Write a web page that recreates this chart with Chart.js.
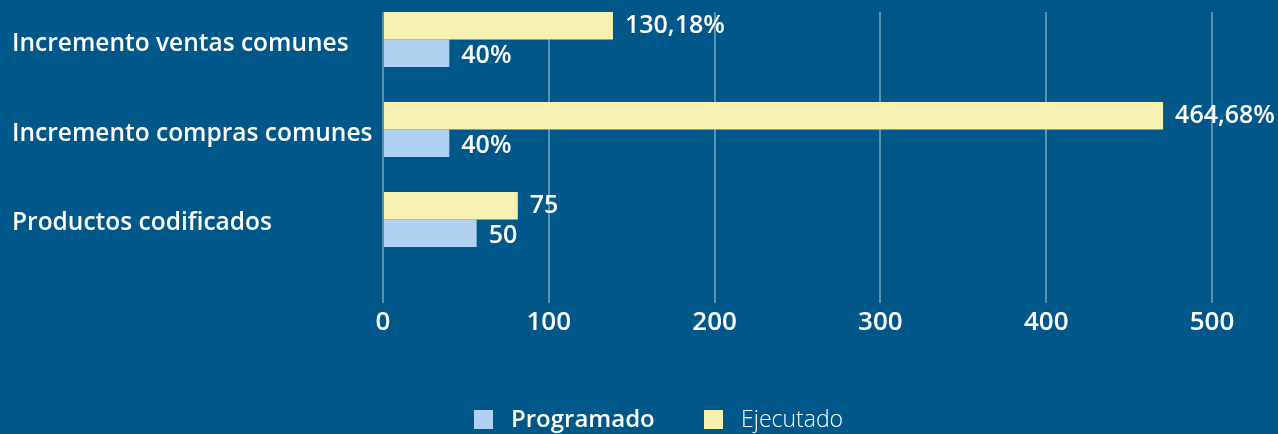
<!DOCTYPE html>
<html>
<head>
<meta charset="utf-8">
<script src="https://cdn.jsdelivr.net/npm/chart.js@4.4.1/dist/chart.umd.min.js"></script>
<style>
  html, body { margin: 0; padding: 0; background: #00578a; }
  #wrap { width: 1278px; height: 434px; position: relative; }
</style>
</head>
<body>
<div id="wrap"><canvas id="c" width="1278" height="434"></canvas></div>
<script>
const categories = ['Incremento ventas comunes', 'Incremento compras comunes', 'Productos codificados'];
const seriesNames = ['Programado', 'Ejecutado'];
const programado = [40, 40, 56.5];
const ejecutado = [138.7, 470.5, 81.3];
const programadoLabels = ['40%', '40%', '50'];
const ejecutadoLabels = ['130,18%', '464,68%', '75'];
const xTicks = [0, 100, 200, 300, 400, 500];

const FONT = "'Open Sans', 'DejaVu Sans', sans-serif";
const YELLOW = '#f6f1b0';
const BLUE = '#b0d1ef';

const valueLabels = {
  id: 'valueLabels',
  afterDatasetsDraw(chart) {
    const ctx = chart.ctx;
    const texts = [ejecutadoLabels, programadoLabels];
    ctx.save();
    ctx.fillStyle = '#ffffff';
    ctx.font = `600 25px ${FONT}`;
    ctx.textAlign = 'left';
    ctx.textBaseline = 'middle';
    chart.data.datasets.forEach((ds, di) => {
      const meta = chart.getDatasetMeta(di);
      meta.data.forEach((bar, i) => {
        ctx.fillText(texts[di][i], bar.x + 12, bar.y + (di === 1 ? 3 : 0));
      });
    });
    ctx.restore();
  }
};

const customLegend = {
  id: 'customLegend',
  afterDraw(chart) {
    const ctx = chart.ctx;
    const items = [
      { text: seriesNames[0], color: BLUE, weight: 600, size: 24, x: 474 },
      { text: seriesNames[1], color: YELLOW, weight: 300, size: 23, x: 704 }
    ];
    ctx.save();
    ctx.textBaseline = 'middle';
    ctx.textAlign = 'left';
    items.forEach(it => {
      ctx.fillStyle = it.color;
      ctx.fillRect(it.x, 410, 19, 19);
      ctx.fillStyle = '#ffffff';
      ctx.font = `${it.weight} ${it.size}px ${FONT}`;
      ctx.fillText(it.text, it.x + 37, 420);
    });
    ctx.restore();
  }
};

new Chart(document.getElementById('c'), {
  type: 'bar',
  data: {
    labels: categories,
    datasets: [
      { label: seriesNames[1], data: ejecutado.map((v, i) => ({ x: v, y: i })), backgroundColor: YELLOW },
      { label: seriesNames[0], data: programado.map((v, i) => ({ x: v, y: i })), backgroundColor: BLUE }
    ]
  },
  options: {
    indexAxis: 'y',
    responsive: false,
    animation: false,
    maintainAspectRatio: false,
    categoryPercentage: 0.61,
    barPercentage: 1,
    layout: { padding: { top: 12, right: 66, left: 12, bottom: 0 } },
    plugins: { legend: { display: false }, tooltip: { enabled: false } },
    scales: {
      x: {
        type: 'linear',
        min: 0, max: 500,
        afterBuildTicks(scale) { scale.ticks = xTicks.map(v => ({ value: v })); },
        afterFit(scale) { scale.height = 434 - 303; scale.paddingLeft = 0; scale.paddingRight = 0; },
        grid: { color: 'rgba(255,255,255,0.35)', lineWidth: 2, drawTicks: false },
        border: { display: false },
        ticks: { color: '#ffffff', font: { family: FONT, size: 26, weight: 600 }, padding: 4 }
      },
      y: {
        type: 'linear',
        reverse: true,
        offset: false,
        min: -0.306, max: 2.928,
        afterBuildTicks(scale) { scale.ticks = categories.map((_, i) => ({ value: i })); },
        afterFit(scale) { scale.width = 383 - 12; scale.paddingTop = 0; scale.paddingBottom = 0; },
        grid: { display: false, drawTicks: false, offset: false },
        border: { display: false },
        ticks: {
          color: '#ffffff',
          crossAlign: 'far',
          labelOffset: 4,
          font: { family: FONT, size: 24.5, weight: 600 },
          callback: (v) => categories[v] ?? ''
        }
      }
    }
  },
  plugins: [valueLabels, customLegend]
});
</script>
</body>
</html>
